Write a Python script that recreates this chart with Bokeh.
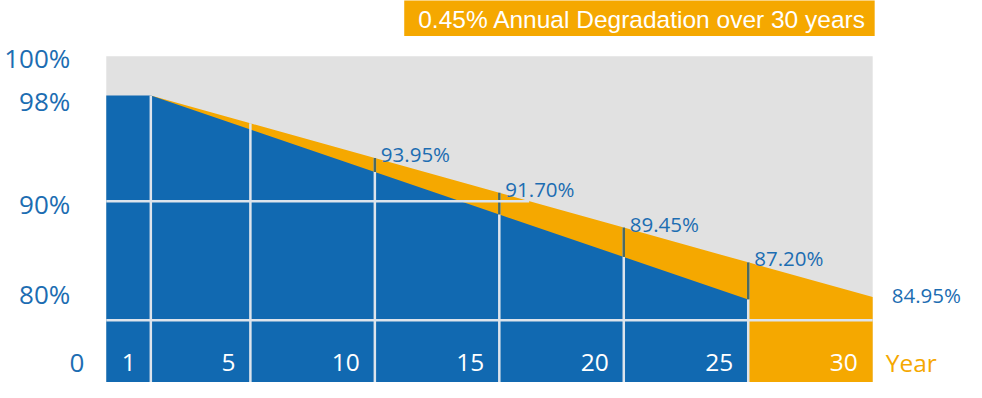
import numpy as np
from bokeh.plotting import figure
from bokeh.models import Range1d, BoxAnnotation, Label
from bokeh.core.properties import value
from bokeh.embed import file_html
from bokeh.resources import INLINE

# ---- data ----
years = [1, 5, 10, 15, 20, 25, 30]
year_labels = ["1", "5", "10", "15", "20", "25", "30"]
product_values = [98.0, 96.2, 93.95, 91.70, 89.45, 87.20, 84.95]
standard_years = [1, 5, 10, 15, 20, 25]
standard_values = [98.0, 95.8, 93.05, 90.3, 87.55, 84.8]
labeled_years = [10, 15, 20, 25]
labeled_text = ["93.95%", "91.70%", "89.45%", "87.20%"]
end_label = "84.95%"
y_tick_labels = ["100%", "98%", "90%", "80%"]
y_tick_at = [100.42, 97.63, 90.98, 85.13]
zero_label = "0"
gridline_levels = [91.16, 83.46]
title_text = "0.45% Annual Degradation over 30 years"

# ---- styling ----
BLUE = "#1169b1"
ORANGE = "#f5a800"
GRAY = "#e1e1e1"
GRID = "#dde4ec"
DARK = "#4b6a62"
TEXTBLUE = "#1c6db2"
FONT = value("Open Sans")

W, H = 966, 382
chart_start = -0.79
chart_top = 100.55
floor = 70.0
label_row = 80.72

x0 = -5.039
x1 = x0 + W / (25.4 * 0.98)
y1 = 104.153
y0 = y1 - H / (16.09 * 0.96)

p = figure(width=W, height=H,
           x_range=Range1d(x0, x1), y_range=Range1d(y0, y1),
           x_axis_location=None, y_axis_location=None,
           toolbar_location=None, output_backend="svg", min_border=0,
           outline_line_color=None, background_fill_color="white",
           border_fill_color="white")
p.grid.visible = False

# grey plate
p.quad(left=[chart_start], right=[years[-1]], bottom=[floor], top=[chart_top],
       fill_color=GRAY, line_color=None)
# product warranty (orange)
p.varea(x=years, y1=[floor] * len(years), y2=product_values, fill_color=ORANGE)
# standard warranty (blue)
bx = [chart_start] + standard_years
by = [standard_values[0]] + standard_values
p.varea(x=bx, y1=[floor] * len(bx), y2=by, fill_color=BLUE)

# vertical grid lines
vy = product_values[:-1]
p.segment(x0=years[:-1], y0=[floor] * len(vy), x1=years[:-1], y1=vy,
          line_color=GRID, line_width=2.5)
std_map = dict(zip(standard_years, standard_values))
prod_map = dict(zip(years, product_values))
p.segment(x0=labeled_years, y0=[std_map[y] for y in labeled_years],
          x1=labeled_years, y1=[prod_map[y] for y in labeled_years],
          line_color=DARK, line_width=2.5)

# horizontal grid lines, stopping at the product line
x_ends = [float(min(years[-1], np.interp(lv, product_values[::-1], years[::-1])))
          if lv >= min(product_values) else float(years[-1]) for lv in gridline_levels]
p.segment(x0=[chart_start] * len(gridline_levels), y0=gridline_levels,
          x1=x_ends, y1=gridline_levels, line_color=GRID, line_width=2.5)

# year labels
p.text(x=years, y=[label_row] * len(years), text=year_labels, x_offset=-15,
       text_align="right", text_baseline="middle", text_color="white",
       text_font=FONT, text_font_size="24.5px")
p.text(x=[years[-1]], y=[label_row], text=["Year"], x_offset=13,
       text_align="left", text_baseline="middle", text_color=ORANGE,
       text_font=FONT, text_font_size="24.5px")

# value labels
p.text(x=labeled_years, y=[prod_map[y] for y in labeled_years], text=labeled_text,
       x_offset=6, y_offset=-4, text_align="left", text_baseline="alphabetic",
       text_color=TEXTBLUE, text_font=FONT, text_font_size="20.5px")
p.text(x=[years[-1]], y=[product_values[-1]], text=[end_label], x_offset=19,
       y_offset=-2, text_align="left", text_baseline="middle",
       text_color=TEXTBLUE, text_font=FONT, text_font_size="20.5px")

# y labels
p.text(x=[chart_start] * len(y_tick_at), y=y_tick_at, text=y_tick_labels,
       x_offset=-36, text_align="right", text_baseline="middle",
       text_color=TEXTBLUE, text_font=FONT, text_font_size="26px")
p.text(x=[chart_start], y=[label_row - 0.06], text=[zero_label], x_offset=-22,
       text_align="right", text_baseline="middle",
       text_color=TEXTBLUE, text_font=FONT, text_font_size="26px")

# title box
p.add_layout(BoxAnnotation(left=11.18, right=30.08, bottom=101.85, top=y1 + 1.0,
                           fill_color=ORANGE, fill_alpha=1.0, line_color=None))
p.add_layout(Label(x=11.18, y=102.91, x_offset=14, text=title_text,
                   text_color="white", text_font="Liberation Sans",
                   text_font_size="24.5px", text_baseline="middle"))

open("out.html", "w").write(file_html(p, INLINE))
